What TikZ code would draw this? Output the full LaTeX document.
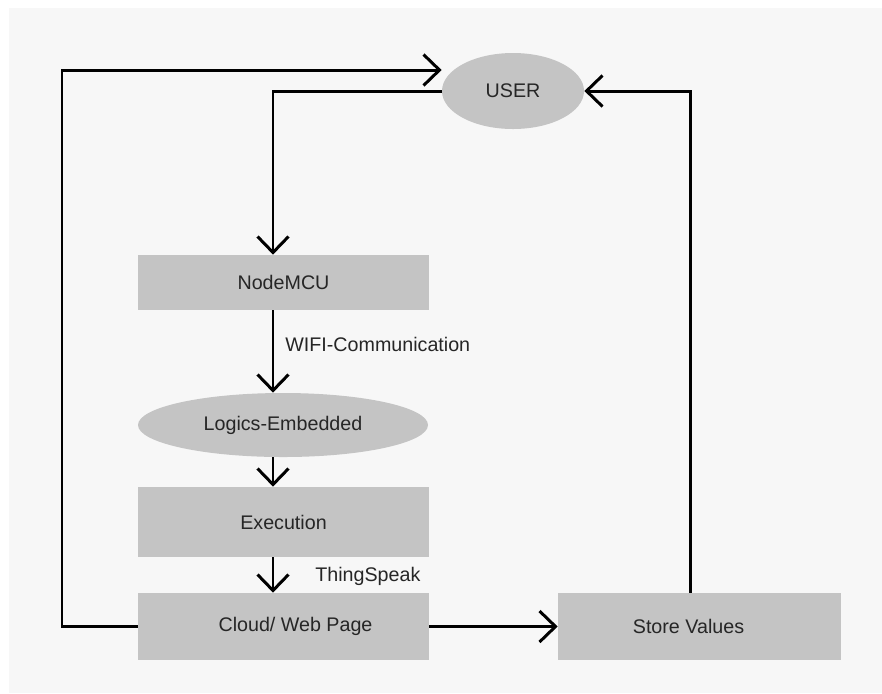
\documentclass[tikz,border=0pt]{standalone}
\usepackage{fontspec}
\setmainfont{Liberation Sans}
\usetikzlibrary{arrows.meta,shapes.geometric,positioning}
\definecolor{bgc}{HTML}{F7F7F7}
\definecolor{boxc}{HTML}{C4C4C4}
\definecolor{txtc}{HTML}{262626}
\tikzset{
  blk/.style={rectangle,fill=boxc,text=txtc,minimum width=58.2mm,inner sep=0pt},
  oval/.style={ellipse,fill=boxc,text=txtc,inner sep=0pt},
  arr/.style={line width=1.7pt,-{Straight Barb[length=3.2mm,width=6.2mm]}},
  lbl/.style={text=txtc}
}
\begin{document}
\begin{tikzpicture}[x=0.2mm,y=-0.2mm,font=\fontsize{11.2}{13}\selectfont]
\fill[white] (0,0) rectangle (882,693);
\fill[bgc] (9,8) rectangle (882,693);
\node[oval,minimum width=28.4mm,minimum height=15.2mm] (user) at (513,91) {USER};
\node[blk,minimum height=11mm] (nodemcu) at (283.5,282.5) {NodeMCU};
\node[oval,minimum width=58mm,minimum height=12.8mm] (logics) at (283,425) {Logics-Embedded};
\node[blk,minimum height=14mm] (exec) at (283.5,522) {Execution};
\node[blk,minimum height=13.4mm] (cloud) at (283.5,626.5) {\hspace*{4.8mm}Cloud/ Web Page};
\node[blk,minimum width=56.6mm,minimum height=13.4mm] (store) at (699.5,626.5) {Store Values\hspace*{4.4mm}};
\coordinate (lc) at (62,70);
\coordinate (vx) at (273,0);
\coordinate (sx) at (690,0);
\draw[arr] (cloud.west) -| (lc) -- (user.west |- lc);
\draw[arr] (user.west) -| (nodemcu.north -| vx);
\draw[arr] (nodemcu.south -| vx) -- node[lbl,pos=0.42,right=1mm] {WIFI-Communication} (logics.north -| vx);
\draw[arr] (logics.south -| vx) -- (exec.north -| vx);
\draw[arr] (exec.south -| vx) -- node[lbl,pos=0.55,right=7mm] {ThingSpeak} (cloud.north -| vx);
\draw[arr] (cloud.east) -- (store.west);
\draw[arr] (store.north -| sx) |- (user.east);
\end{tikzpicture}
\end{document}
